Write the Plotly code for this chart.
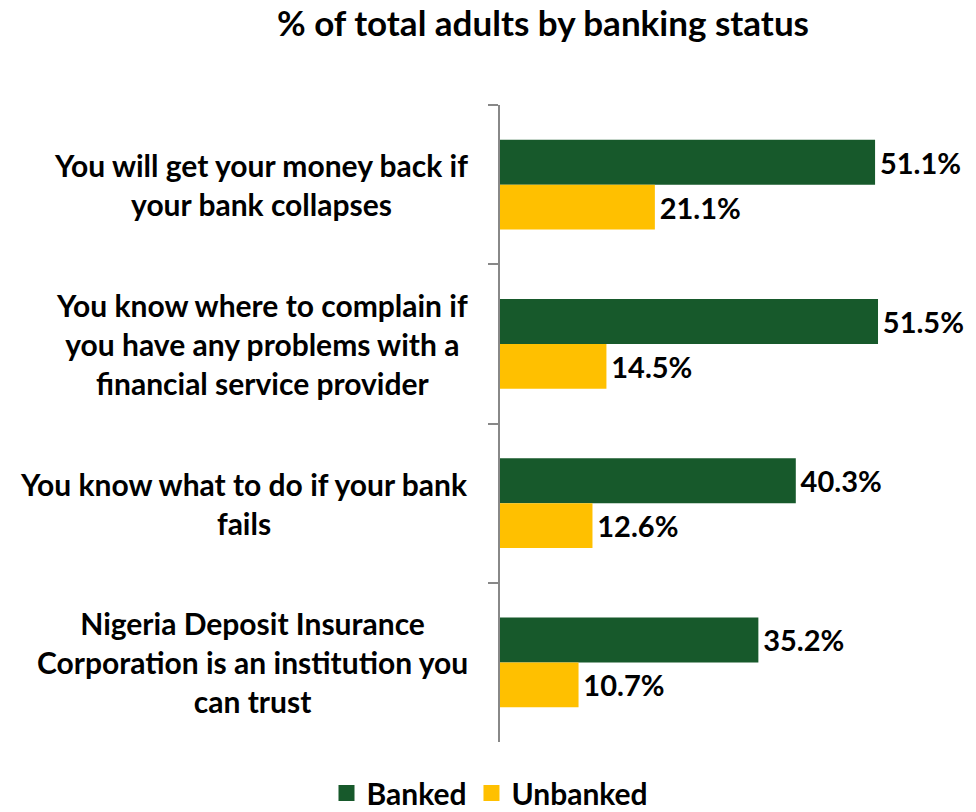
import plotly.graph_objects as go

# Survey statements (top to bottom) and share of adults agreeing, by banking status
statements = [
    "You will get your money back if<br>your bank collapses",
    "You know where to complain if<br>you have any problems with a<br>financial service provider",
    "You know what to do if your bank<br>fails",
    "Nigeria Deposit Insurance<br>Corporation is an institution you<br>can trust",
]
cat_ids = ["c1", "c2", "c3", "c4"]
banked = [51.1, 51.5, 40.3, 35.2]
unbanked = [21.1, 14.5, 12.6, 10.7]

GREEN = "#17592B"
YELLOW = "#FFC000"
FONT = "Lato"

fig = go.Figure()

for name, vals, color in [("Banked", banked, GREEN), ("Unbanked", unbanked, YELLOW)]:
    fig.add_trace(go.Bar(
        y=cat_ids, x=vals, name=name, orientation="h",
        marker=dict(color=color, line=dict(width=0)),
        texttemplate="<b>\u200a%{x:.1f}%</b>",
        textposition="outside",
        textfont=dict(family=FONT, size=29, color="black"),
        cliponaxis=False,
        showlegend=False,
    ))

# Legend entries with larger square swatches
for name, color in [("Banked", GREEN), ("Unbanked", YELLOW)]:
    fig.add_trace(go.Scatter(
        x=[None], y=[None], mode="markers", name=f"<b>{name}</b>",
        marker=dict(symbol="square", size=19, color=color),
    ))

# Category labels: right-anchored blocks with centred lines
plot_left, plot_w = 500, 476
for cid, label in zip(cat_ids, statements):
    fig.add_annotation(
        x=(470 - plot_left) / plot_w, xref="paper", xanchor="right",
        y=cid, yref="y", yanchor="middle",
        text=f"<b>{label}</b>", showarrow=False, align="center",
        font=dict(family=FONT, size=30, color="black"),
    )

fig.update_layout(
    width=976, height=812,
    paper_bgcolor="white", plot_bgcolor="white",
    margin=dict(l=plot_left, r=0, t=105, b=70, autoexpand=False),
    barmode="group", bargap=0.435, bargroupgap=0,
    title=dict(
        text="<b>% of total adults by banking status</b>",
        x=543 / 976, xanchor="center", y=1 - 24 / 812, yanchor="middle",
        font=dict(family=FONT, size=35, color="black"),
    ),
    font=dict(family=FONT, color="black"),
    legend=dict(
        orientation="h", xref="container", x=490 / 976, xanchor="center",
        yref="container", y=1 - 793 / 812, yanchor="middle",
        font=dict(family=FONT, size=30, color="black"),
        itemwidth=30, traceorder="normal",
    ),
    xaxis=dict(range=[0, 64.85], visible=False, showgrid=False, zeroline=False),
    yaxis=dict(
        autorange="reversed", showticklabels=False,
        showline=True, linecolor="#888888", linewidth=2,
        ticks="outside", ticklen=10, tickcolor="#888888", tickwidth=2,
        tickson="boundaries", showgrid=False, zeroline=False,
    ),
)

fig.write_html("out.html")
